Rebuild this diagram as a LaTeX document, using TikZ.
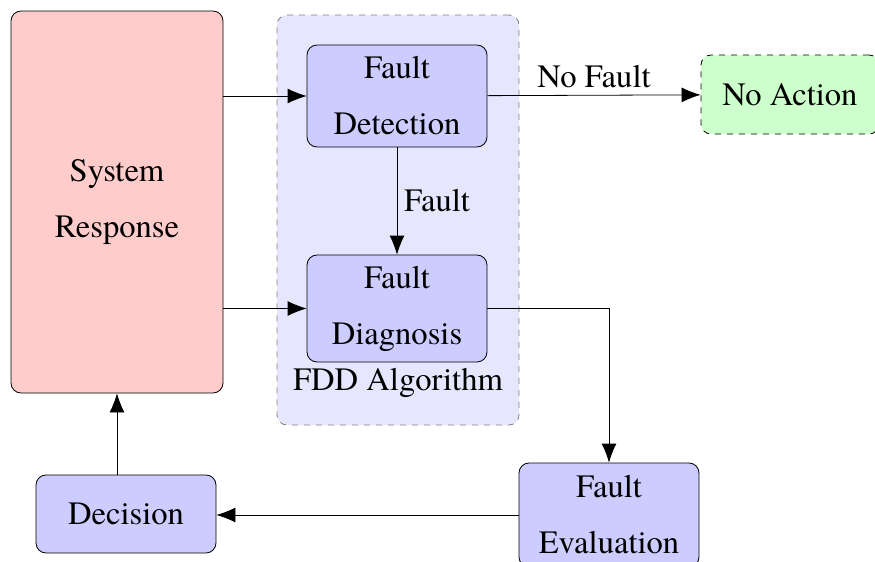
\documentclass[tikz,border=0pt]{standalone}
\usepackage{fontspec}
\setmainfont{texgyretermes}[Extension=.otf, UprightFont=*-regular, BoldFont=*-bold]
\usetikzlibrary{arrows.meta}
\definecolor{boxblue}{HTML}{CCCCFF}
\definecolor{fddblue}{HTML}{E6E6FF}
\definecolor{resppink}{HTML}{FFCCCC}
\definecolor{okgreen}{HTML}{CCFFCC}

\begin{document}
\begin{tikzpicture}[x=0.5pt, y=-0.5pt,
  every node/.style={font=\fontsize{16.3}{28}\selectfont},
  block/.style={draw, rounded corners=5pt, align=center, fill=boxblue, minimum width=90pt},
  arr/.style={-{Latex[length=9.5pt,width=7.5pt]}}]
  \useasboundingbox (0,0) rectangle (875,562);

  \node[draw=gray, dashed, rounded corners=5pt, fill=fddblue, minimum width=121pt, minimum height=205pt] at (398,220) (fdd) {};
  \node at (398,383) (fddlabel) {FDD Algorithm};

  \node[block, minimum width=106pt, minimum height=191pt, fill=resppink] at (117,202) (resp) {System\\Response};
  \node[block, minimum height=51pt] at (397,96) (detect) {Fault\\Detection};
  \node[block, minimum height=53.5pt] at (397,308.5) (diag) {Fault\\Diagnosis};
  \node[block, dashed, minimum width=89pt, minimum height=39.5pt, fill=okgreen] at (790,94.5) (noact) {No Action};
  \node[block, minimum height=52pt] at (609,515) (eval) {Fault\\Evaluation};
  \node[block, minimum height=39pt] at (126,514) (decide) {Decision};

  \draw[arr] (resp.east |- detect) -- (detect);
  \draw[arr] (resp.east |- diag) -- (diag);
  \draw[arr] (detect) -- node[above] {No Fault} (noact);
  \draw[arr] (detect) -- node[right] {Fault} (diag);
  \draw[arr] (diag) -| (eval);
  \draw[arr] (eval.west) -- (eval.west -| decide.east);
  \draw[arr] (decide.north -| resp.south) -- (resp.south);
\end{tikzpicture}
\end{document}
